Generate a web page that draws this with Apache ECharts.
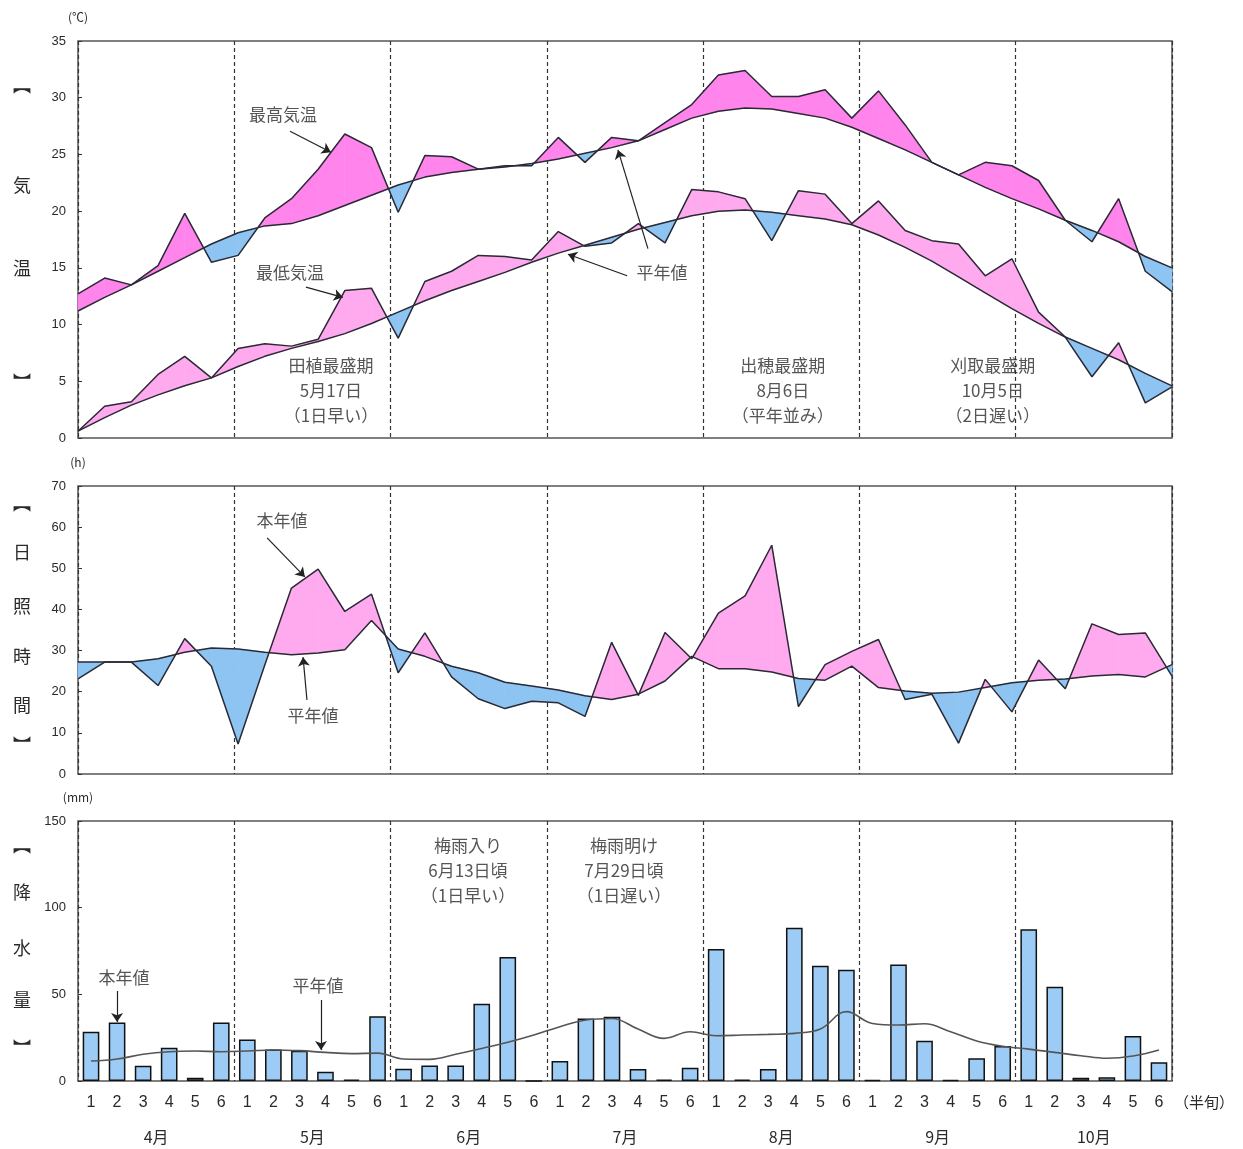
<!DOCTYPE html>
<html>
<head>
<meta charset="utf-8">
<script src="https://cdn.jsdelivr.net/npm/echarts@6/dist/echarts.min.js"></script>
<style>
  html, body { margin: 0; padding: 0; background: #fff; }
  #chart { width: 1243px; height: 1149px; }
</style>
</head>
<body>
<div id="chart"></div>
<script>
// 半旬 (half-month) periods, April - October
const months = ['4月', '5月', '6月', '7月', '8月', '9月', '10月'];
const halfLabels = months.flatMap(() => ['1', '2', '3', '4', '5', '6']);

// 気温 (℃)
const maxTemp = [12.7, 14.1, 13.5, 15.2, 19.8, 15.5, 16.1, 19.4, 21.1, 23.7, 26.8, 25.6, 19.9, 24.9,
  24.8, 23.7, 24.0, 24.0, 26.5, 24.3, 26.5, 26.2, 27.8, 29.4, 32.0, 32.4, 30.1, 30.1,
  30.7, 28.2, 30.6, 27.6, 24.3, 23.2, 24.3, 24.0, 22.7, 19.2, 17.3, 21.1, 14.7, 12.9];
const maxNormal = [11.2, 12.4, 13.5, 14.7, 15.9, 17.1, 18.1, 18.7, 18.9, 19.6, 20.5, 21.4, 22.3, 23.0,
  23.4, 23.7, 23.9, 24.2, 24.6, 25.1, 25.6, 26.2, 27.2, 28.2, 28.8, 29.1, 29.0, 28.6,
  28.2, 27.4, 26.4, 25.4, 24.3, 23.2, 22.1, 21.1, 20.2, 19.2, 18.3, 17.3, 16.0, 15.0];
const minTemp = [0.6, 2.8, 3.2, 5.6, 7.2, 5.3, 7.9, 8.3, 8.1, 8.7, 13.0, 13.2, 8.8, 13.8,
  14.7, 16.1, 16.0, 15.7, 18.2, 16.9, 17.2, 18.9, 17.2, 21.9, 21.7, 21.1, 17.4, 21.8,
  21.5, 18.9, 20.9, 18.3, 17.4, 17.1, 14.3, 15.8, 11.1, 8.9, 5.4, 8.4, 3.1, 4.5];
const minNormal = [0.6, 1.8, 2.9, 3.8, 4.6, 5.3, 6.3, 7.2, 7.9, 8.5, 9.2, 10.1, 11.1, 12.1,
  13.0, 13.8, 14.6, 15.5, 16.3, 17.0, 17.7, 18.4, 19.0, 19.6, 20.0, 20.1, 19.9, 19.6,
  19.3, 18.8, 17.9, 16.8, 15.6, 14.2, 12.8, 11.4, 10.1, 8.9, 7.9, 6.9, 5.7, 4.6];

// 日照時間 (h)
const sunshine = [23.1, 27.2, 27.2, 21.5, 32.9, 26.2, 7.3, 26.5, 45.2, 49.8, 39.5, 43.7, 24.6, 34.3,
  23.6, 18.3, 15.9, 17.7, 17.3, 14.0, 32.0, 19.1, 34.4, 28.0, 39.1, 43.3, 55.6, 16.4,
  26.6, 29.8, 32.7, 18.1, 19.4, 7.5, 23.0, 15.1, 27.7, 20.7, 36.5, 33.9, 34.3, 23.8];
const sunNormal = [27.2, 27.2, 27.2, 28.0, 29.6, 30.6, 30.4, 29.6, 29.0, 29.4, 30.2, 37.3, 30.4, 28.6,
  26.2, 24.6, 22.3, 21.4, 20.4, 19.0, 18.1, 19.4, 22.6, 28.6, 25.6, 25.6, 24.8, 23.2,
  22.8, 26.2, 21.0, 20.2, 19.6, 19.9, 21.0, 22.2, 22.8, 23.1, 23.8, 24.2, 23.6, 26.6];

// 降水量 (mm)
const rain = [28.4, 33.8, 8.8, 19.2, 1.9, 33.8, 24.0, 18.2, 17.5, 5.4, 0.8, 37.3, 7.1, 9.0,
  9.0, 44.6, 71.6, 0, 11.5, 36.1, 37.1, 6.9, 0.8, 7.7, 76.1, 0.8, 6.9, 88.4,
  66.5, 64.2, 0.6, 67.2, 23.2, 0.6, 13.1, 20.2, 87.6, 54.4, 1.9, 2.1, 25.9, 10.8];
const rainNormal = [11.5, 12.7, 15.4, 16.9, 17.3, 16.9, 17.3, 17.9, 17.5, 16.5, 15.8, 16.1, 12.7, 12.5,
  15.4, 18.8, 22.3, 26.5, 31.3, 35.2, 36.1, 30.0, 24.6, 28.4, 26.1, 26.5, 26.9, 27.5,
  30.0, 40.0, 33.2, 32.3, 33.0, 28.4, 23.1, 20.0, 18.4, 16.5, 14.6, 13.1, 14.4, 17.9];

// annotations: [grid, x (half-month units 0-42), y (axis units), text]
const notes = [
  [0, 7.87, 28.5, '最高気温'],
  [0, 8.14, 14.6, '最低気温'],
  [0, 22.42, 14.6, '平年値'],
  [0, 9.71, 4.16, '田植最盛期\n5月17日\n（1日早い）'],
  [0, 27.06, 4.16, '出穂最盛期\n8月6日\n（平年並み）'],
  [0, 35.12, 4.16, '刈取最盛期\n10月5日\n（2日遅い）'],
  [1, 7.83, 61.5, '本年値'],
  [1, 9.02, 14.1, '平年値'],
  [2, 1.77, 59.9, '本年値'],
  [2, 9.21, 55.3, '平年値'],
  [2, 14.97, 121.6, '梅雨入り\n6月13日頃\n（1日早い）'],
  [2, 20.96, 121.6, '梅雨明け\n7月29日頃\n（1日遅い）']
];
const arrows = [
  [0, [8.14, 27.05], [9.71, 25.2]],
  [0, [8.75, 13.3], [10.17, 12.4]],
  [0, [21.88, 16.7], [20.73, 25.4]],
  [0, [21.08, 14.3], [18.81, 16.2]],
  [1, [7.26, 57.4], [8.71, 47.9]],
  [1, [8.79, 18.0], [8.64, 28.4]],
  [2, [1.5, 51.9], [1.5, 34.0]],
  [2, [9.33, 46.7], [9.33, 17.9]]
];

const PINK_HI = '#ff84ec';
const PINK = '#ffaaee';
const BLUE = '#8dc4f2';
const LINE = '#2a2a36';
const TEXT = '#2a2a2a';
const CJK = '"Noto Sans CJK JP", "Noto Sans CJK SC", sans-serif';
const NUM = '"Liberation Sans Narrow", "Liberation Sans", sans-serif';

const grids = [
  {left: 78, top: 41, width: 1094, height: 397},
  {left: 78, top: 486, width: 1094, height: 288},
  {left: 78, top: 821, width: 1094, height: 260}
];

function segments(act, nor) {
  return act.slice(0, -1).map((v, i) => [i, v, act[i + 1], nor[i], nor[i + 1]]);
}

// fill between this year's value and the normal, pink above / blue below
function diffFill(upColor, downColor) {
  return function (params, api) {
    const i = api.value(0);
    const act0 = api.value(1), act1 = api.value(2);
    const nor0 = api.value(3), nor1 = api.value(4);
    const a0 = api.coord([i, act0]), a1 = api.coord([i + 1, act1]);
    const n0 = api.coord([i, nor0]), n1 = api.coord([i + 1, nor1]);
    const d0 = act0 - nor0, d1 = act1 - nor1;
    const poly = (pts, c) => ({
      type: 'polygon', shape: {points: pts},
      style: {fill: c, stroke: c, lineWidth: 0.6}
    });
    if (d0 * d1 >= 0) {
      return {type: 'group', children: [poly([a0, a1, n1, n0], d0 + d1 >= 0 ? upColor : downColor)]};
    }
    const t = d0 / (d0 - d1);
    const c = [a0[0] + (a1[0] - a0[0]) * t, a0[1] + (a1[1] - a0[1]) * t];
    return {type: 'group', children: [
      poly([a0, c, n0], d0 > 0 ? upColor : downColor),
      poly([c, a1, n1], d1 > 0 ? upColor : downColor)
    ]};
  };
}

const xAxes = [];
grids.forEach((g, gi) => {
  const isBottom = gi === 2;
  xAxes.push({
    type: 'category', gridIndex: gi, position: 'bottom', data: halfLabels,
    boundaryGap: isBottom,
    axisLine: {show: false}, axisTick: {show: false},
    axisLabel: {show: isBottom, interval: 0, margin: 14, fontSize: 16, color: TEXT, fontFamily: 'Liberation Sans'},
    splitLine: {show: false},
    name: isBottom ? '（半旬）' : '',
    nameLocation: 'end', nameGap: 2,
    nameTextStyle: {fontSize: 15, color: TEXT, fontFamily: CJK, verticalAlign: 'top', padding: [14, 0, 0, 0]}
  });
  xAxes.push({
    type: 'category', gridIndex: gi, position: 'bottom', data: months,
    boundaryGap: true,
    axisLine: {show: false}, axisTick: {show: false},
    axisLabel: {show: isBottom, interval: 0, margin: 48, fontSize: 16, color: TEXT, fontFamily: CJK},
    splitLine: {show: true, interval: 0, lineStyle: {type: [4, 3], color: '#333', width: 1.2}}
  });
  xAxes.push({type: 'value', gridIndex: gi, position: 'top', min: 0, max: 42, show: false});
});

function yAxis(gi, max, interval, unit) {
  return {
    type: 'value', gridIndex: gi, min: 0, max: max, interval: interval,
    name: unit, nameLocation: 'end', nameGap: 18,
    nameTextStyle: {fontSize: 12, color: TEXT, fontFamily: CJK},
    axisLine: {show: false},
    axisTick: {show: true, inside: true, length: 4, lineStyle: {color: '#333'}},
    axisLabel: {fontSize: 13, color: TEXT, margin: 12, fontFamily: NUM},
    splitLine: {show: false}
  };
}

function line(data, xi, yi, extra) {
  return Object.assign({
    type: 'line', data: data, xAxisIndex: xi, yAxisIndex: yi,
    symbol: 'none', z: 4, silent: true,
    lineStyle: {color: LINE, width: 1.5}
  }, extra || {});
}

function fill(act, nor, xi, yi, up) {
  return {
    type: 'custom', xAxisIndex: xi, yAxisIndex: yi, z: 2, silent: true,
    renderItem: diffFill(up, BLUE), data: segments(act, nor)
  };
}

const series = [
  fill(maxTemp, maxNormal, 0, 0, PINK_HI),
  fill(minTemp, minNormal, 0, 0, PINK),
  line(maxNormal, 0, 0), line(maxTemp, 0, 0),
  line(minNormal, 0, 0), line(minTemp, 0, 0),

  fill(sunshine, sunNormal, 3, 1, PINK),
  line(sunNormal, 3, 1), line(sunshine, 3, 1),

  {
    type: 'bar', data: rain, xAxisIndex: 6, yAxisIndex: 2, barWidth: '64%', z: 2, silent: true,
    itemStyle: {color: '#9ccbf5', borderColor: '#111', borderWidth: 1.5}
  },
  line(rainNormal, 6, 2, {smooth: 0.4, lineStyle: {color: '#555', width: 1.6}})
];

grids.forEach((g, gi) => {
  series.push({
    type: 'scatter', xAxisIndex: gi * 3 + 2, yAxisIndex: gi, z: 6, silent: true,
    symbol: 'rect', symbolSize: 1, itemStyle: {color: 'rgba(0,0,0,0)'},
    data: notes.filter(n => n[0] === gi).map(n => ({value: [n[1], n[2]], name: n[3]})),
    label: {
      show: true, position: 'inside', formatter: '{b}',
      fontSize: 17, lineHeight: 25, color: TEXT, fontFamily: CJK
    }
  });
  series.push({
    type: 'lines', coordinateSystem: 'cartesian2d', xAxisIndex: gi * 3 + 2, yAxisIndex: gi,
    z: 6, silent: true, symbol: ['none', 'arrow'], symbolSize: 9,
    lineStyle: {color: '#222', width: 1.2, opacity: 1},
    data: arrows.filter(a => a[0] === gi).map(a => ({coords: [a[1], a[2]]}))
  });
});

// vertical side labels
const sideLabels = [
  [['︻', 85], ['気', 185], ['温', 268], ['︼', 382]],
  [['︻', 503], ['日', 552], ['照', 606], ['時', 656], ['間', 705], ['︼', 745]],
  [['︻', 845], ['降', 892], ['水', 948], ['量', 1000], ['︼', 1048]]
];
const graphic = sideLabels.flat().map(([ch, y]) => ({
  type: 'text', x: 22, y: y, silent: true,
  style: {text: ch, fill: TEXT, font: '18px ' + CJK, align: 'center', verticalAlign: 'middle'}
}));

const chart = echarts.init(document.getElementById('chart'), null, {renderer: 'canvas'});
chart.setOption({
  animation: false,
  backgroundColor: '#fff',
  grid: grids.map(g => Object.assign({show: true, borderColor: '#555', borderWidth: 1.5, backgroundColor: 'transparent'}, g)),
  xAxis: xAxes,
  yAxis: [
    yAxis(0, 35, 5, '(℃)'),
    yAxis(1, 70, 10, '(h)'),
    yAxis(2, 150, 50, '(mm)')
  ],
  graphic: graphic,
  series: series
});
</script>
</body>
</html>
